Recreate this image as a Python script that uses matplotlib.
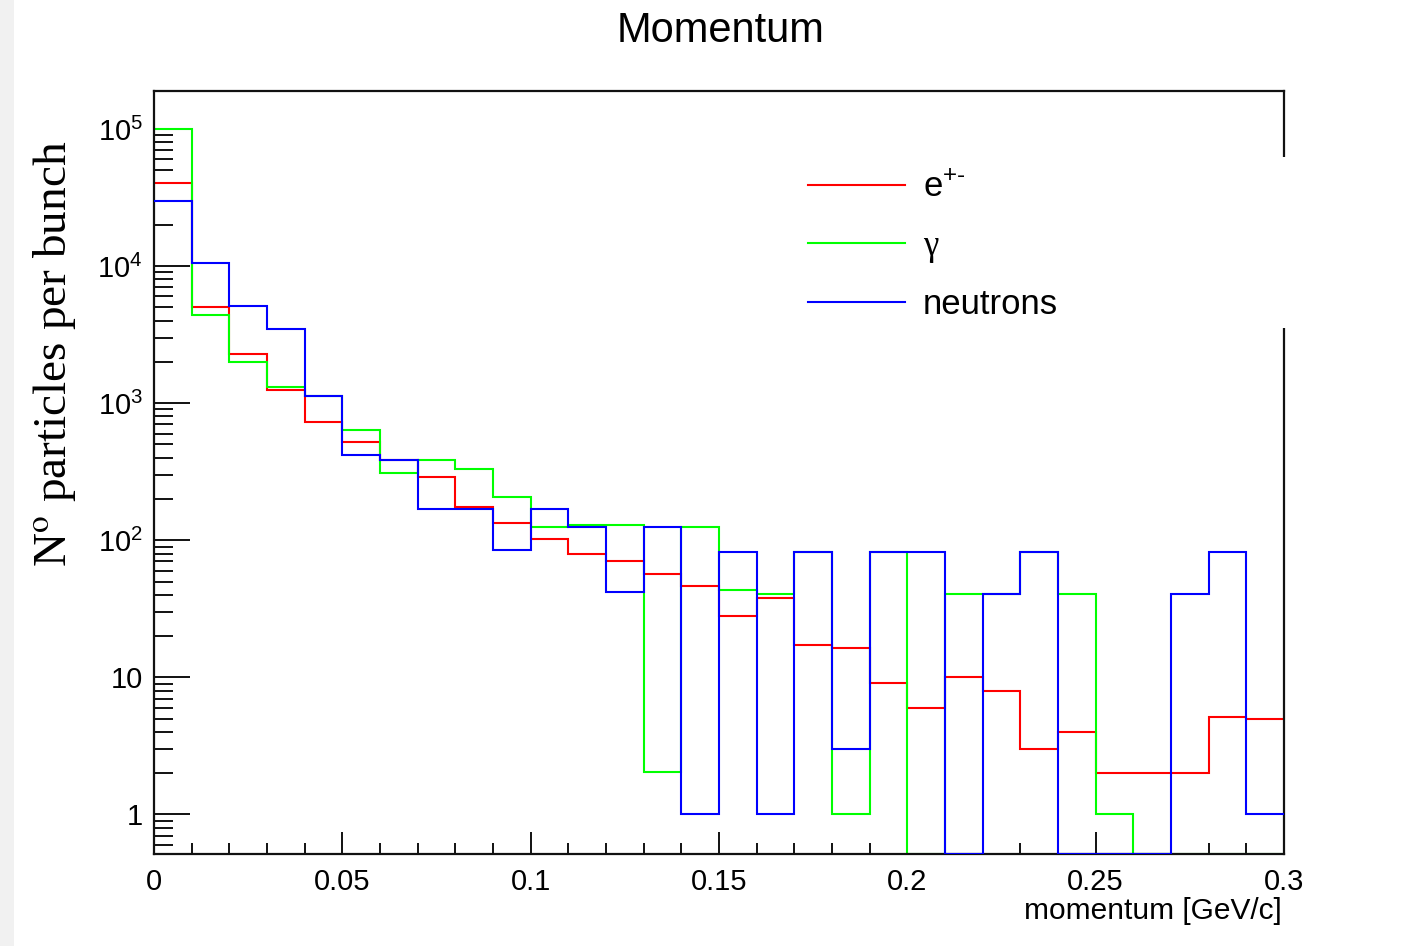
import numpy as np
import matplotlib
matplotlib.use('Agg')
import matplotlib.pyplot as plt
from matplotlib.patches import Rectangle
from matplotlib.ticker import FixedLocator, FixedFormatter, LogLocator, NullFormatter, MultipleLocator

plt.rcParams['font.family'] = ['Liberation Sans', 'DejaVu Sans']
plt.rcParams['mathtext.fontset'] = 'custom'
plt.rcParams['mathtext.rm'] = 'Liberation Sans'
plt.rcParams['mathtext.it'] = 'Liberation Sans:italic'
plt.rcParams['mathtext.bf'] = 'Liberation Sans:bold'

# ---------------- data ----------------
x_min, x_max, n_bins = 0.0, 0.3, 30

electrons = [40000, 5000, 2300, 1250, 730, 520, 383, 290, 176, 133,
             102, 80, 70, 57, 46, 28, 38, 17.3, 16.3, 9.1,
             6.0, 10.1, 7.9, 3.0, 4.0, 2.0, 2.0, 2.0, 5.1, 5.0]
photons = [100000, 4380, 2010, 1305, 1135, 634, 311, 383, 333, 207,
           125, 129, 129, 2.05, 125, 43.4, 40.8, 82.6, 1, 82.6,
           0, 40.8, 40.8, 82.6, 40.8, 1, 0, 0, 0, 0]
neutrons = [30000, 10600, 5140, 3475, 1135, 421, 383, 169, 169, 85.5,
            169, 125, 42.2, 125, 1, 82.6, 1, 82.6, 3, 82.6,
            82.6, 0, 40.8, 82.6, 0, 0, 0, 40.8, 82.6, 1]

series = [electrons, photons, neutrons]
series_labels = [r'e$^{+\text{-}}$', 'γ', 'neutrons']
series_colors = ['#ff0000', '#00ff00', '#0000ff']

y_lo, y_hi = 0.515, 1.9e5
y_ticks = [1, 10, 100, 1000, 10000, 100000]
y_tick_labels = ['1', '10', r'$10^{2}$', r'$10^{3}$', r'$10^{4}$', r'$10^{5}$']
x_ticks = [0, 0.05, 0.1, 0.15, 0.2, 0.25, 0.3]
x_tick_labels = ['0', '0.05', '0.1', '0.15', '0.2', '0.25', '0.3']

title = 'Momentum'
x_label = 'momentum [GeV/c]'
y_label = r'N$^{\mathrm{o}}$ particles per bunch'

# ---------------- figure ----------------
W, H = 1426, 946
fig = plt.figure(figsize=(W / 100, H / 100), dpi=100)
fig.patch.set_facecolor('white')
fig.patches.append(Rectangle((0, 0), 14 / W, 1, transform=fig.transFigure,
                             facecolor='#f1f1f1', edgecolor='none', zorder=0))

ax = fig.add_axes([154 / W, 1 - 854 / H, (1284 - 154) / W, (854 - 90.7) / H])
ax.set_yscale('log')

edges = np.linspace(x_min, x_max, n_bins + 1)
zorders = [2.0, 2.1, 3.0]
for vals, lab, col, zo in zip(series, series_labels, series_colors, zorders):
    v = np.maximum(np.asarray(vals, dtype=float), y_lo)
    ax.stairs(v, edges, baseline=None, color=col, lw=1.5, label=lab, zorder=zo)

ax.set_xlim(x_min, x_max)
ax.set_ylim(y_lo, y_hi)

for s in ax.spines.values():
    s.set_linewidth(1.6)
    s.set_color('#111111')

ax.xaxis.set_major_locator(FixedLocator(x_ticks))
ax.xaxis.set_major_formatter(FixedFormatter(x_tick_labels))
ax.xaxis.set_minor_locator(MultipleLocator(0.01))
ax.yaxis.set_major_locator(FixedLocator(y_ticks))
ax.yaxis.set_major_formatter(FixedFormatter(y_tick_labels))
ax.yaxis.set_minor_locator(LogLocator(base=10, subs=np.arange(2, 10), numticks=20))
ax.yaxis.set_minor_formatter(NullFormatter())

ax.tick_params(axis='both', which='both', direction='in', top=False, right=False,
               color='#111111', width=1.4)
ax.tick_params(axis='y', which='major', length=26, pad=8, labelsize=21)
ax.tick_params(axis='y', which='minor', length=14)
ax.tick_params(axis='x', which='major', length=16, pad=10, labelsize=21)
ax.tick_params(axis='x', which='minor', length=8)

# white legend box (covers part of the right frame, as in the original)
ax.add_patch(Rectangle((0.56, 0.689), 0.45, 0.2245, transform=ax.transAxes,
                       facecolor='white', edgecolor='none', clip_on=False, zorder=4))
leg = ax.legend(loc='upper left', bbox_to_anchor=(808 / W, 1 - 171 / H),
                bbox_transform=fig.transFigure, frameon=False, fontsize=25,
                handlelength=2.8, handletextpad=0.5, labelspacing=0.74,
                borderpad=0, borderaxespad=0)
leg.set_zorder(5)
leg.get_texts()[1].set_family('Liberation Serif')

fig.text(0.505, 1 - 42 / H, title, ha='center', va='baseline', fontsize=30)
fig.text(1282 / W, 1 - 919 / H, x_label, ha='right', va='baseline', fontsize=21.5)
fig.text(55 / W, 1 - 354 / H, y_label, rotation=90, ha='center', va='center',
         fontsize=34, family='Liberation Serif', math_fontfamily='stix')

fig.savefig('out.png', dpi=100)
